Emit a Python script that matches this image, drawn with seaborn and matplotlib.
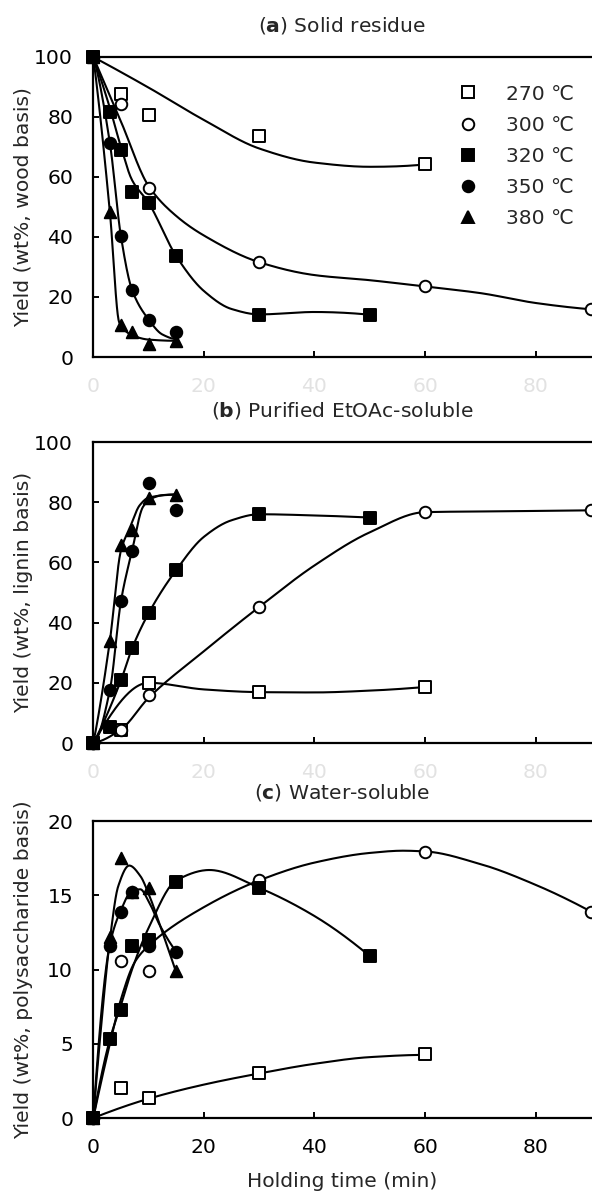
import numpy as np
import matplotlib
matplotlib.use("Agg")
import matplotlib.pyplot as plt
import seaborn as sns
from matplotlib.lines import Line2D

# ---------------- data ----------------
temps = ["270 ℃", "300 ℃", "320 ℃", "350 ℃", "380 ℃"]

t_270 = [0, 5, 10, 30, 60]
t_300 = [0, 5, 10, 30, 60, 90]
t_320 = [0, 3, 5, 7, 10, 15, 30, 50]
t_350 = [0, 3, 5, 7, 10, 15]
t_380 = [0, 3, 5, 7, 10, 15]

# (a) Solid residue
solid_270 = [100, 87.8, 80.7, 73.7, 64.2]
solid_300 = [100, 84.3, 56.3, 31.6, 23.5, 15.9]
solid_320 = [100, 81.6, 69.0, 55.0, 51.4, 33.6, 14.0, 14.1]
solid_350 = [100, 71.3, 40.2, 22.4, 12.5, 8.4]
solid_380 = [100, 48.3, 10.8, 8.3, 4.4, 5.4]

# (b) Purified EtOAc-soluble
eto_270 = [0, 4.3, 20.0, 16.9, 18.6]
eto_300 = [0, 4.3, 16.1, 45.2, 76.7, 77.3]
eto_320 = [0, 5.4, 20.8, 31.4, 43.1, 57.5, 76.0, 74.9]
eto_350 = [0, 17.6, 47.1, 63.8, 86.4, 77.4]
eto_380 = [0, 34.0, 65.9, 70.6, 81.3, 82.5]

# (c) Water-soluble
ws_270 = [0, 2.0, 1.35, 3.0, 4.3]
ws_300 = [0, 10.6, 9.9, 16.0, 17.9, 13.9]
ws_320 = [0, 5.3, 7.3, 11.6, 12.0, 15.9, 15.5, 10.9]
ws_350 = [0, 11.6, 13.9, 15.2, 11.6, 11.2]
ws_380 = [0, 12.2, 17.5, 15.2, 15.5, 9.9]

# trend curves drawn in the reference (knots)
fa_270_t = [0, 10, 20, 30, 40, 50, 60]
fa_270_y = [100, 89.8, 79.0, 69.5, 64.8, 63.4, 64.2]
fa_300_t = [0, 5, 10, 15, 20, 30, 40, 50, 60, 70, 80, 90]
fa_300_y = [100, 78.5, 57.0, 47.0, 40.5, 31.6, 27.3, 25.6, 23.5, 21.3, 18.0, 15.9]
fa_320_t = [0, 3, 5, 7, 10, 15, 20, 25, 30, 40, 50]
fa_320_y = [100, 83.0, 70.0, 59.0, 51.4, 33.6, 22.0, 16.0, 14.2, 15.0, 14.1]
fa_350_t = [0, 3, 5, 7, 10, 12.5, 15]
fa_350_y = [100, 71.3, 40.2, 22.4, 12.5, 7.5, 6.0]
fa_380_t = [0, 3, 4.7, 7, 10, 15]
fa_380_y = [100, 48.3, 11.5, 7.3, 5.8, 5.4]

fb_270_t = [0, 10, 20, 30, 40, 50, 60]
fb_270_y = [0, 20.0, 17.8, 16.9, 16.8, 17.4, 18.6]
fb_300_t = [0, 5, 10, 20, 30, 40, 50, 60, 75, 90]
fb_300_y = [0, 4.5, 15.0, 30.5, 45.2, 59.0, 70.0, 76.7, 77.0, 77.3]
fb_320_t = [0, 5, 7, 10, 15, 20, 25, 30, 40, 50]
fb_320_y = [0, 20.8, 31.4, 43.1, 57.5, 68.5, 74.0, 76.0, 75.6, 74.9]
fb_350_t = [0, 3, 5, 7, 9, 10.6, 12.5, 15]
fb_350_y = [0, 17.6, 47.1, 63.8, 78.5, 81.3, 82.3, 82.5]
fb_380_t = [0, 3, 5, 6.6, 8.4, 10, 15]
fb_380_y = [0, 34.0, 64.0, 71.5, 79.0, 81.5, 82.6]

fc_270_t = [0, 10, 20, 30, 40, 50, 60]
fc_270_y = [0, 1.3, 2.25, 3.0, 3.65, 4.1, 4.25]
fc_300_t = [0, 3, 5, 7.5, 10, 20, 30, 40, 50, 56, 60, 70, 80, 90]
fc_300_y = [0, 5.0, 8.0, 10.5, 11.6, 14.2, 16.0, 17.2, 17.85, 18.0, 17.95, 17.1, 15.7, 13.9]
fc_320_t = [0, 3, 5, 7, 10, 15, 21, 30, 40, 50]
fc_320_y = [0, 5.3, 7.6, 10.0, 12.8, 16.0, 16.7, 15.5, 13.6, 10.9]
fc_350_t = [0, 3, 5, 7, 8.5, 10, 12, 15]
fc_350_y = [0, 11.7, 14.0, 15.3, 15.4, 14.6, 13.0, 11.2]
fc_380_t = [0, 1.5, 3, 4.5, 6.5, 8.5, 10, 12.5, 15]
fc_380_y = [0, 6.5, 12.0, 15.6, 17.0, 16.3, 15.1, 12.5, 9.8]

# ---------------- styling ----------------
sns.set_style("white")
plt.rcParams["font.family"] = ["DejaVu Sans"]
plt.rcParams["mathtext.fontset"] = "dejavusans"

FS = 14.6
MS = 8.3
MEW = 1.4
LW = 1.5

styles = {
    "270 ℃": ("s", "white"),
    "300 ℃": ("o", "white"),
    "320 ℃": ("s", "black"),
    "350 ℃": ("o", "black"),
    "380 ℃": ("^", "black"),
}


def smooth(x, y, n=300):
    """Monotone cubic (PCHIP) smoothing of a drawn trend line through knots."""
    x = np.asarray(x, float)
    y = np.asarray(y, float)
    h = np.diff(x)
    d = np.diff(y) / h
    m = np.zeros_like(y)
    for k in range(1, len(x) - 1):
        if d[k - 1] * d[k] > 0:
            w1 = 2 * h[k] + h[k - 1]
            w2 = h[k] + 2 * h[k - 1]
            m[k] = (w1 + w2) / (w1 / d[k - 1] + w2 / d[k])

    def end(h0, h1, d0, d1):
        s = ((2 * h0 + h1) * d0 - h0 * d1) / (h0 + h1)
        if np.sign(s) != np.sign(d0):
            s = 0.0
        elif np.sign(d0) != np.sign(d1) and abs(s) > abs(3 * d0):
            s = 3 * d0
        return s

    m[0] = end(h[0], h[1], d[0], d[1])
    m[-1] = end(h[-1], h[-2], d[-1], d[-2])
    xs = np.linspace(x[0], x[-1], n)
    idx = np.clip(np.searchsorted(x, xs, side="right") - 1, 0, len(h) - 1)
    t = (xs - x[idx]) / h[idx]
    h00 = 2 * t**3 - 3 * t**2 + 1
    h10 = t**3 - 2 * t**2 + t
    h01 = -2 * t**3 + 3 * t**2
    h11 = t**3 - t**2
    ys = h00 * y[idx] + h10 * h[idx] * m[idx] + h01 * y[idx + 1] + h11 * h[idx] * m[idx + 1]
    return xs, ys


panels = [
    dict(
        title=r"($\mathbf{a}$) Solid residue",
        ylabel="Yield (wt%, wood basis)",
        ylim=(0, 100), yticks=[0, 20, 40, 60, 80, 100],
        rect=[0.1576, 0.70025, 0.8407, 0.2519], pad=18.5,
        times=[t_270, t_300, t_320, t_350, t_380],
        vals=[solid_270, solid_300, solid_320, solid_350, solid_380],
        fits=[(fa_270_t, fa_270_y), (fa_300_t, fa_300_y), (fa_320_t, fa_320_y),
              (fa_350_t, fa_350_y), (fa_380_t, fa_380_y)],
        faint=True,
    ),
    dict(
        title=r"($\mathbf{b}$) Purified EtOAc-soluble",
        ylabel="Yield (wt%, lignin basis)",
        ylim=(0, 100), yticks=[0, 20, 40, 60, 80, 100],
        rect=[0.1576, 0.37615, 0.8407, 0.25273], pad=18.5,
        times=[t_270, t_300, t_320, t_350, t_380],
        vals=[eto_270, eto_300, eto_320, eto_350, eto_380],
        fits=[(fb_270_t, fb_270_y), (fb_300_t, fb_300_y), (fb_320_t, fb_320_y),
              (fb_350_t, fb_350_y), (fb_380_t, fb_380_y)],
        faint=True,
    ),
    dict(
        title=r"($\mathbf{c}$) Water-soluble",
        ylabel="Yield (wt%, polysaccharide basis)",
        ylim=(0, 20), yticks=[0, 5, 10, 15, 20],
        rect=[0.1576, 0.06129, 0.8407, 0.24937], pad=16,
        times=[t_270, t_300, t_320, t_350, t_380],
        vals=[ws_270, ws_300, ws_320, ws_350, ws_380],
        fits=[(fc_270_t, fc_270_y), (fc_300_t, fc_300_y), (fc_320_t, fc_320_y),
              (fc_350_t, fc_350_y), (fc_380_t, fc_380_y)],
        faint=False,
    ),
]

fig = plt.figure(figsize=(5.92, 11.91), dpi=100)
fig.patch.set_facecolor("white")

draw_order = [0, 1, 2, 4, 3]

for i, p in enumerate(panels):
    ax = fig.add_axes(p["rect"])
    ax.set_facecolor("white")
    for j in range(5):
        fx, fy = smooth(*p["fits"][j])
        sns.lineplot(x=fx, y=fy, ax=ax, color="black", lw=LW,
                     estimator=None, sort=False, zorder=2)
    for j in draw_order:
        mk, fc = styles[temps[j]]
        sns.scatterplot(x=p["times"][j], y=p["vals"][j], ax=ax, marker=mk,
                        s=MS**2, color=fc, edgecolor="black", linewidth=MEW,
                        clip_on=False, zorder=3 + j * 0.1, legend=False)
    ax.set_xlim(0, 90)
    ax.set_ylim(*p["ylim"])
    ax.set_xticks([0, 20, 40, 60, 80])
    ax.set_yticks(p["yticks"])
    ax.tick_params(direction="in", length=4.3, width=1.4, labelsize=FS,
                   pad=14.5, colors="black", bottom=True, left=True)
    if p["faint"]:
        ax.tick_params(axis="x", labelcolor="#e2e2e2")
    for side in ["left", "top", "bottom"]:
        ax.spines[side].set_linewidth(1.6)
        ax.spines[side].set_color("black")
    ax.spines["right"].set_visible(False)
    ax.set_title(p["title"], fontsize=FS, pad=p["pad"])
    ax.set_ylabel(p["ylabel"], fontsize=FS)
    ax.yaxis.set_label_coords(-0.121, 0.5)
    ax.set_xlabel("")
    if i == 2:
        ax.set_xlabel("Holding time (min)", fontsize=FS)
        ax.xaxis.set_label_coords(0.5, -0.182)
    if i == 0:
        handles = []
        for tlab in temps:
            mk, fc = styles[tlab]
            handles.append(Line2D([], [], ls="none", marker=mk, markersize=MS,
                                  markerfacecolor=fc, markeredgecolor="black",
                                  markeredgewidth=MEW))
        ax.legend(handles, temps, loc="upper right", bbox_to_anchor=(0.966, 0.908),
                  frameon=False, fontsize=FS, handlelength=1.0, handletextpad=1.4,
                  labelspacing=0.6, borderpad=0, borderaxespad=0)

fig.savefig("out.png", dpi=100)
